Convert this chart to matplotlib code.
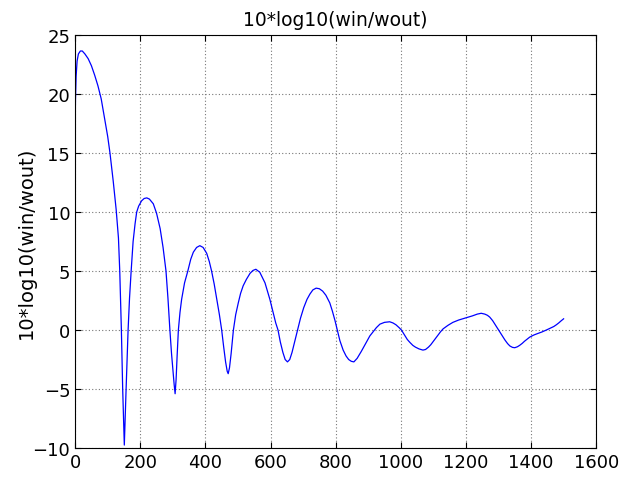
import matplotlib
matplotlib.use("Agg")
import matplotlib.pyplot as plt

# values
freq = [0, 1, 3, 6, 10, 16, 22, 30, 40, 50, 60, 70, 80, 90, 100, 107, 117, 126, 133, 137,
        142, 146, 149, 151, 153, 156.5, 162.6, 167, 172, 178, 184, 189, 195, 204, 212, 220,
        228, 240, 250, 261, 270, 279, 285, 291, 296, 300, 304, 307, 310, 313, 317, 322,
        327, 336, 346, 355, 363, 373, 383, 393, 404, 412, 419, 427, 435, 443, 450, 456,
        462, 467, 470, 474, 479, 486, 493, 501, 508, 516, 526, 537, 546, 555, 567, 583,
        598, 608, 616, 623, 630, 638, 645, 652, 659, 666, 674, 683, 692, 702, 712, 721,
        730, 740, 750, 760, 770, 782, 790, 798, 805, 813, 823, 832, 840, 848, 856, 866,
        879, 895, 905, 915, 925, 936, 950, 966, 976, 985, 995, 1002, 1012, 1020, 1028,
        1037, 1045, 1056, 1068, 1076, 1085, 1092, 1099, 1107, 1115, 1122, 1130, 1145,
        1160, 1178, 1196, 1220, 1235, 1247, 1258, 1266, 1273, 1282, 1290, 1297, 1304,
        1312, 1320, 1328, 1335, 1343, 1350, 1358, 1365, 1373, 1380, 1388, 1396, 1408,
        1420, 1433, 1447, 1460, 1470, 1478, 1485, 1492, 1500]
ratio_db = [17.3, 19.5, 21.5, 22.8, 23.4, 23.65, 23.65, 23.4, 23.0, 22.4, 21.6, 20.7, 19.6, 18.0, 16.4, 15.0, 12.6, 10.2, 7.8, 5.0,
            0.0, -5.0, -8.0, -9.75, -8.0, -5.0, 0.0, 2.7, 5.0, 7.5, 9.0, 10.0, 10.5, 10.95, 11.15, 11.2,
            11.1, 10.7, 9.9, 8.6, 7.0, 5.0, 2.7, 0.0, -2.0, -3.3, -4.6, -5.4, -4.2, -2.3, 0.0, 1.5,
            2.6, 4.0, 5.0, 6.0, 6.6, 7.0, 7.15, 7.0, 6.5, 5.8, 5.0, 3.9, 2.6, 1.3, 0.0, -1.4,
            -2.7, -3.5, -3.7, -3.2, -2.0, 0.0, 1.3, 2.3, 3.1, 3.75, 4.3, 4.8, 5.05, 5.15, 4.9, 4.0,
            2.6, 1.5, 0.6, 0.0, -1.0, -1.9, -2.5, -2.7, -2.5, -1.9, -1.0, 0.0, 1.0, 1.9, 2.6, 3.05,
            3.4, 3.55, 3.5, 3.3, 2.95, 2.3, 1.6, 0.8, 0.0, -0.9, -1.7, -2.2, -2.5, -2.65, -2.7, -2.4,
            -1.8, -1.0, -0.5, -0.15, 0.2, 0.5, 0.65, 0.7, 0.6, 0.45, 0.2, 0.0, -0.45, -0.8, -1.05,
            -1.3, -1.45, -1.6, -1.7, -1.65, -1.45, -1.25, -1.0, -0.7, -0.4, -0.15, 0.1, 0.4,
            0.65, 0.85, 1.0, 1.2, 1.35, 1.42, 1.35, 1.25, 1.1, 0.8, 0.45, 0.15, -0.15,
            -0.5, -0.85, -1.15, -1.35, -1.47, -1.5, -1.42, -1.3, -1.13, -0.95, -0.77, -0.6, -0.43,
            -0.3, -0.17, 0.0, 0.17, 0.3, 0.45, 0.6, 0.77, 0.95]

title = "10*log10(win/wout)"
xticks = [0, 200, 400, 600, 800, 1000, 1200, 1400, 1600]
yticks = [-10, -5, 0, 5, 10, 15, 20, 25]

fig = plt.figure(figsize=(6.21, 4.81), dpi=100)
ax = fig.add_axes([0.121, 0.0665, 0.839, 0.8585])

ax.plot(freq, ratio_db, color="#0000ff", linewidth=0.9)

ax.set_xlim(0, 1600)
ax.set_ylim(-10, 25)
ax.set_xticks(xticks)
ax.set_yticks(yticks)
ax.tick_params(direction="in", top=True, right=True, labelsize=13, length=4)
ax.grid(True, linestyle=(0, (1, 2)), color="#777777", linewidth=0.8)

ax.set_title(title, fontsize=13.5, pad=7)
ax.set_ylabel(title, fontsize=14)
ax.yaxis.set_label_coords(-0.076, 0.5)

fig.savefig("out.png", dpi=100)
